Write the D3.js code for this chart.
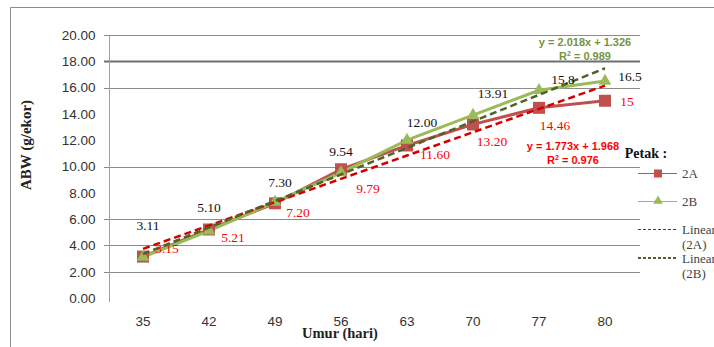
<!DOCTYPE html>
<html><head><meta charset="utf-8">
<script src="https://cdn.jsdelivr.net/npm/d3@7"></script>
<style>body{margin:0;background:#fff}svg{display:block}</style>
</head><body>
<script>
const categories = ["35","42","49","56","63","70","77","80"];
const seriesA = [3.15, 5.21, 7.20, 9.79, 11.60, 13.20, 14.46, 15];
const seriesB = [3.11, 5.10, 7.30, 9.54, 12.00, 13.91, 15.8, 16.5];
const labelsA = ["3.15","5.21","7.20","9.79","11.60","13.20","14.46","15"];
const labelsB = ["3.11","5.10","7.30","9.54","12.00","13.91","15.8","16.5"];
const trendA = {slope: 1.773, intercept: 1.968, r2: "0.976"};
const trendB = {slope: 2.018, intercept: 1.326, r2: "0.989"};
const yTicks = [0, 2, 4, 6, 8, 10, 12, 14, 16, 18, 20];
const gridValues = [2, 4, 6, 10, 16, 18, 20];
// label placement offsets (layout)
const offA = [[24,-9],[24,8],[23,9],[27,19],[28,9],[19,17],[16,17],[22,0]];
const offB = [[5,-32],[0,-24],[5,-20],[0,-22],[15,-18],[20,-22],[24,-11],[25,-5]];

const W = 714, H = 347;
const svg = d3.select("body").append("svg").attr("width", W).attr("height", H);

// outer frame
svg.append("path").attr("d", `M10.5,${H} V7.5 H${W}`).attr("fill","none").attr("stroke","#8c8c8c").attr("stroke-width",1);

const x = d3.scaleBand().domain(categories).range([110, 638]);
const y = d3.scaleLinear().domain([0, 20]).range([298, 35]);
const cx = c => x(c) + x.bandwidth()/2;

// gridlines
svg.append("g").selectAll("line").data(gridValues).join("line")
  .attr("x1", 104).attr("x2", 640)
  .attr("y1", d => Math.round(y(d)) + 0.5).attr("y2", d => Math.round(y(d)) + 0.5)
  .attr("stroke", d => d === 18 ? "#6e6e6e" : "#8c8c8c")
  .attr("stroke-width", d => d === 18 ? 2 : 1.2);

// y axis
const yAxis = svg.append("g").attr("transform","translate(109.5,0)")
  .call(d3.axisLeft(y).tickValues(yTicks).tickSize(0).tickPadding(14).tickFormat(d3.format(".2f")));
yAxis.select(".domain").remove();
yAxis.append("line").attr("y1",35).attr("y2",302).attr("stroke","#a0a0a0");
yAxis.selectAll("text").attr("font-family","'Liberation Sans', Arial, sans-serif").attr("font-size",13.5).attr("fill","#333");

// x axis labels
const xAxis = svg.append("g").attr("transform","translate(0,316)")
  .call(d3.axisBottom(x).tickSize(0).tickPadding(0));
xAxis.select(".domain").remove();
xAxis.selectAll("text").attr("font-family","'Liberation Sans', Arial, sans-serif").attr("font-size",13.5).attr("fill","#333");

// axis titles
svg.append("text").attr("transform","translate(31,145) rotate(-90)").attr("text-anchor","middle")
  .attr("font-family","'Liberation Serif', 'Times New Roman', serif").attr("font-weight","bold").attr("font-size",15).attr("fill","#222")
  .text("ABW (g/ekor)");
svg.append("text").attr("x",340).attr("y",338).attr("text-anchor","middle")
  .attr("font-family","'Liberation Serif', 'Times New Roman', serif").attr("font-weight","bold").attr("font-size",14.5).attr("fill","#222")
  .text("Umur (hari)");

const colA = "#c0504d", colB = "#9bbb59", colTA = "#d40000", colTB = "#4f6228";

// series lines
const line = d3.line().x((d,i) => cx(categories[i])).y(d => y(d));
svg.append("path").datum(seriesA).attr("d", line).attr("fill","none").attr("stroke",colA).attr("stroke-width",3);
svg.append("path").datum(seriesB).attr("d", line).attr("fill","none").attr("stroke",colB).attr("stroke-width",3);

// markers
svg.append("g").selectAll("rect").data(seriesA).join("rect")
  .attr("x",(d,i)=>cx(categories[i])-6).attr("y",d=>y(d)-6).attr("width",12).attr("height",12).attr("fill",colA);
const tri = d3.symbol().type(d3.symbolTriangle).size(70);
svg.append("g").selectAll("path").data(seriesB).join("path")
  .attr("transform",(d,i)=>`translate(${cx(categories[i])},${y(d)})`).attr("d",tri).attr("fill",colB);

// trendlines
function trendPts(t){ return categories.map((c,i)=>[cx(c), y(t.slope*(i+1)+t.intercept)]); }
svg.append("path").attr("d", d3.line()(trendPts(trendA))).attr("fill","none").attr("stroke",colTA).attr("stroke-width",2.5).attr("stroke-dasharray","7,4");
svg.append("path").attr("d", d3.line()(trendPts(trendB))).attr("fill","none").attr("stroke",colTB).attr("stroke-width",2.5).attr("stroke-dasharray","7,4");

// data labels
const serif = "'Liberation Serif', 'Times New Roman', serif";
svg.append("g").selectAll("text").data(seriesA).join("text")
  .attr("x",(d,i)=>cx(categories[i])+offA[i][0]).attr("y",(d,i)=>y(d)+offA[i][1]+5)
  .attr("text-anchor","middle").attr("font-family",serif).attr("font-size",13.5).attr("fill","#ff0000")
  .text((d,i)=>labelsA[i]);
svg.append("g").selectAll("text").data(seriesB).join("text")
  .attr("x",(d,i)=>cx(categories[i])+offB[i][0]).attr("y",(d,i)=>y(d)+offB[i][1]+5)
  .attr("text-anchor","middle").attr("font-family",serif).attr("font-size",13.5).attr("fill","#111")
  .text((d,i)=>labelsB[i]);

// equations
const sans = "'Liberation Sans', Arial, sans-serif";
function eq(t, xc, y1, col){
  svg.append("text").attr("x",xc).attr("y",y1).attr("text-anchor","middle").attr("font-family",sans).attr("font-weight","bold").attr("font-size",11).attr("fill",col)
    .text(`y = ${t.slope}x + ${t.intercept}`);
  const r = svg.append("text").attr("x",xc).attr("y",y1+14).attr("text-anchor","middle").attr("font-family",sans).attr("font-weight","bold").attr("font-size",11).attr("fill",col);
  r.append("tspan").text("R");
  r.append("tspan").attr("font-size",7).attr("dy",-4).text("2");
  r.append("tspan").attr("dy",4).text(` = ${t.r2}`);
}
eq(trendB, 585, 46, "#77933c");
eq(trendA, 573, 150, "#ff0000");

// legend
svg.append("text").attr("x",646).attr("y",158).attr("text-anchor","middle").attr("font-family",serif).attr("font-weight","bold").attr("font-size",14).attr("fill","#111").text("Petak :");
const lg = svg.append("g").attr("font-family",serif).attr("font-size",13).attr("fill","#444");
lg.append("line").attr("x1",638).attr("x2",677).attr("y1",173.5).attr("y2",173.5).attr("stroke",colA).attr("stroke-width",1.2);
lg.append("rect").attr("x",654).attr("y",169.5).attr("width",8).attr("height",8).attr("fill",colA);
lg.append("text").attr("x",682).attr("y",178).text("2A");
lg.append("line").attr("x1",638).attr("x2",677).attr("y1",201.5).attr("y2",201.5).attr("stroke",colB).attr("stroke-width",1.2);
lg.append("path").attr("transform","translate(658,201)").attr("d",d3.symbol().type(d3.symbolTriangle).size(40)).attr("fill",colB);
lg.append("text").attr("x",682).attr("y",206).text("2B");
lg.append("line").attr("x1",638).attr("x2",677).attr("y1",229.5).attr("y2",229.5).attr("stroke",colTA).attr("stroke-width",1.2).attr("stroke-dasharray","3,2");
lg.append("text").attr("x",682).attr("y",234).text("Linear");
lg.append("text").attr("x",682).attr("y",249).text("(2A)");
lg.append("line").attr("x1",638).attr("x2",677).attr("y1",258).attr("y2",258).attr("stroke",colTB).attr("stroke-width",2).attr("stroke-dasharray","3,2");
lg.append("text").attr("x",682).attr("y",263).text("Linear");
lg.append("text").attr("x",682).attr("y",278).text("(2B)");
</script>
</body></html>
